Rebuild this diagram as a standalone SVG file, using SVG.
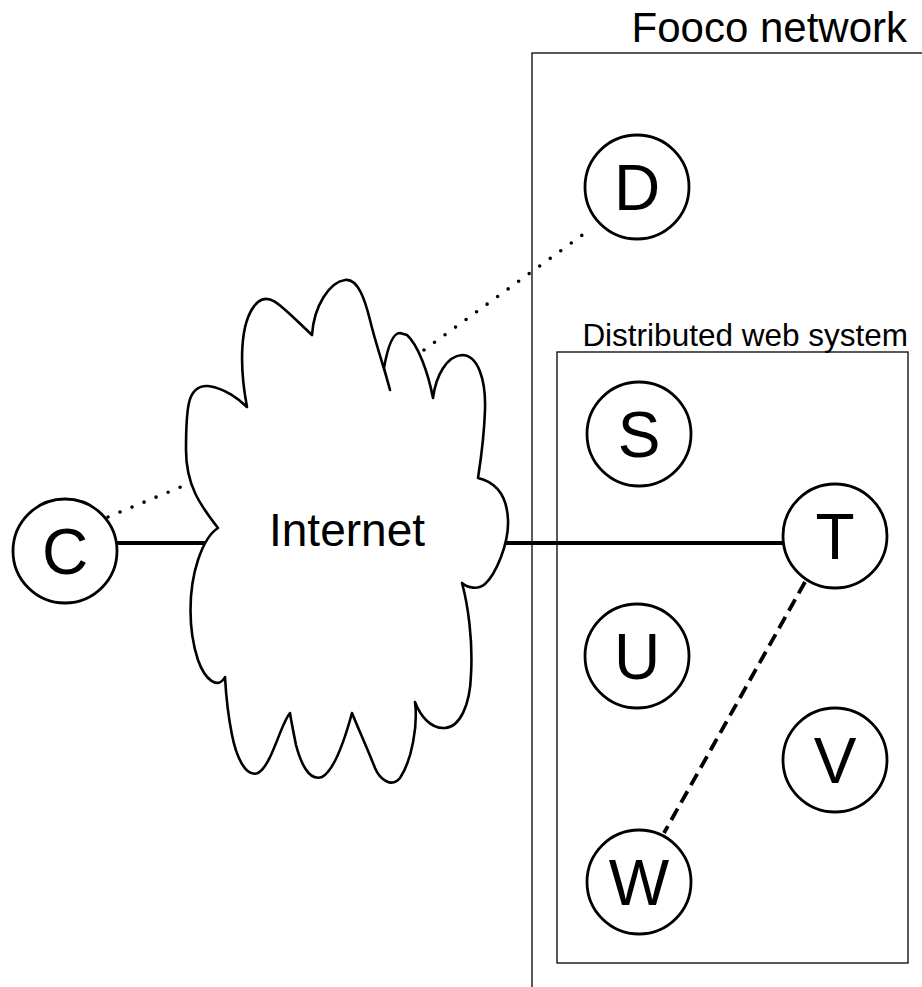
<svg xmlns="http://www.w3.org/2000/svg" width="922" height="987" viewBox="0 0 922 987">
<style>
.box{fill:none;stroke:#000;stroke-width:1.3}
.node circle{fill:#fff;stroke:#000;stroke-width:2.8}
.node text{font-family:"Liberation Sans",Arial,sans-serif;font-size:64px;text-anchor:middle;fill:#000}
.lbl{font-family:"Liberation Sans",Arial,sans-serif;fill:#000}
.solid{stroke:#000;stroke-width:4;fill:none}
.dotted{stroke:#000;stroke-width:3.6;fill:none;stroke-dasharray:0 13;stroke-linecap:round}
.dashed{stroke:#000;stroke-width:3.8;fill:none;stroke-dasharray:13 7}
</style>
<rect width="922" height="987" fill="#fff"/>
<g id="fooco-network">
<rect class="box" x="532" y="53" width="420" height="960"/>
<text class="lbl" x="907" y="42" font-size="42" text-anchor="end">Fooco network</text>
</g>
<g id="distributed-web-system">
<rect class="box" x="557" y="352" width="351" height="611"/>
<text class="lbl" x="908" y="346" font-size="31.5" text-anchor="end">Distributed web system</text>
</g>
<g id="connectors">
<line class="solid" x1="117" y1="543" x2="212" y2="543"/>
<line class="solid" x1="504" y1="543" x2="784" y2="543"/>
<line class="dotted" x1="108" y1="517" x2="188" y2="484"/>
<line class="dotted" x1="424" y1="350" x2="592" y2="228"/>
<line class="dashed" x1="805" y1="582" x2="664" y2="833"/>
</g>
<g id="internet">
<path fill="#fff" stroke="#000" stroke-width="2.6" stroke-linejoin="round" d="M218,528 C200,505 186,485 186,450 C186,405 188,385 208,386 C225,388 240,400 247,407 C240,370 238,320 258,302 C270,292 280,305 312,335 C314,305 330,282 345,280 C358,278 365,300 370,320 C376,345 385,370 390,390 L384,368 C388,345 393,333 400,333 L407,335 C418,345 428,372 433,398 C436,375 447,356 462,355 C478,355 486,380 485,410 C484,440 480,465 478,478 C495,482 507,495 508,520 C509,545 495,575 485,584 C478,590 468,588 462,583 C468,605 473,640 471,675 C470,705 460,727 445,728 C430,729 420,715 415,702 C418,725 412,760 400,778 C392,788 380,780 375,768 C368,750 358,728 352,713 C346,735 335,770 322,777 C308,782 300,760 296,745 C293,730 291,720 290,713 C280,725 272,765 258,773 C245,778 236,755 232,735 C228,715 226,695 225,677 C218,690 205,680 198,660 C188,630 188,590 198,560 C203,545 210,533 218,528 Z"/>
<text class="lbl" x="269" y="546" font-size="46">Internet</text>
</g>
<g id="node-C" class="node"><circle cx="65" cy="551" r="52"/><text x="65" y="574">C</text></g>
<g id="node-D" class="node"><circle cx="637" cy="187" r="52"/><text x="637" y="210">D</text></g>
<g id="node-S" class="node"><circle cx="639" cy="434" r="52"/><text x="639" y="457">S</text></g>
<g id="node-T" class="node"><circle cx="835" cy="536" r="52"/><text x="835" y="559">T</text></g>
<g id="node-U" class="node"><circle cx="637" cy="656" r="52"/><text x="637" y="679">U</text></g>
<g id="node-V" class="node"><circle cx="835" cy="760" r="52"/><text x="835" y="783">V</text></g>
<g id="node-W" class="node"><circle cx="639" cy="882" r="52"/><text x="639" y="905">W</text></g>
</svg>
